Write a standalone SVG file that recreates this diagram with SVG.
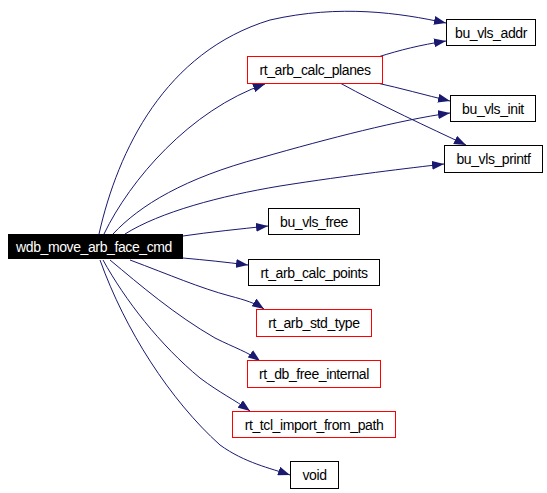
<svg xmlns="http://www.w3.org/2000/svg" width="547" height="493" viewBox="0 0 547 493">
<defs>
<marker id="ah" viewBox="0 0 12 9" refX="12" refY="4.5" markerWidth="12" markerHeight="9" markerUnits="userSpaceOnUse" orient="auto">
<path d="M0,0 L12,4.5 L0,9 Z" fill="#191970"/>
</marker>
<style>
.e{fill:none;stroke:#191970;stroke-width:1;marker-end:url(#ah)}
.n rect{fill:#fff;stroke:#000;stroke-width:1}
.r rect{stroke:#ff0000}
text{font-family:"Liberation Sans",Arial,sans-serif;font-size:14px;letter-spacing:-0.4px;text-anchor:middle;fill:#000}
</style>
</defs>
<rect width="547" height="493" fill="#fff"/>
<g id="edges">
<path class="e" d="M99,234 C118,150 165,52 270,20 C340,4 400,13 446,23"/>
<path class="e" d="M104,234 C130,180 190,110 265,84"/>
<path class="e" d="M113,234 C140,205 185,178 260,158 C330,138 400,120 450,113"/>
<path class="e" d="M125,234 C160,212 220,196 280,186 C350,175 410,168 444,164"/>
<path class="e" d="M183,236 C210,232 240,229 268,226"/>
<path class="e" d="M183,258 C205,260 225,262 248,265"/>
<path class="e" d="M130,260 C170,275 200,288 230,296 C245,300 255,303 264,309"/>
<path class="e" d="M110,260 C140,285 175,315 215,338 C235,348 248,352 260,361"/>
<path class="e" d="M103,260 C125,300 160,345 200,378 C220,393 235,400 250,411"/>
<path class="e" d="M100,260 C125,330 170,400 220,445 C245,463 270,468 290,475"/>
<path class="e" d="M378,57 C400,50 420,45 446,41"/>
<path class="e" d="M377,83 C400,88 425,95 450,101"/>
<path class="e" d="M340,83 C380,105 430,128 466,145"/>
</g>
<g id="wdb_move_arb_face_cmd"><rect x="8" y="234" width="175" height="25" fill="#000"/><text x="94" y="251.5" style="fill:#fff">wdb_move_arb_face_cmd</text></g>
<g id="rt_arb_calc_planes" class="n r"><rect x="247.5" y="56.5" width="135" height="27"/><text x="315" y="75">rt_arb_calc_planes</text></g>
<g id="bu_vls_addr" class="n"><rect x="446.5" y="19.5" width="89" height="26"/><text x="491" y="38">bu_vls_addr</text></g>
<g id="bu_vls_init" class="n"><rect x="450.5" y="95.5" width="85" height="26"/><text x="493" y="114">bu_vls_init</text></g>
<g id="bu_vls_printf" class="n"><rect x="444.5" y="145.5" width="98" height="27"/><text x="493.5" y="164">bu_vls_printf</text></g>
<g id="bu_vls_free" class="n"><rect x="268.5" y="208.5" width="91" height="26"/><text x="314" y="227">bu_vls_free</text></g>
<g id="rt_arb_calc_points" class="n"><rect x="248.5" y="259.5" width="131" height="26"/><text x="314" y="278">rt_arb_calc_points</text></g>
<g id="rt_arb_std_type" class="n r"><rect x="256.5" y="309.5" width="115" height="27"/><text x="314" y="328">rt_arb_std_type</text></g>
<g id="rt_db_free_internal" class="n r"><rect x="247.5" y="360.5" width="133" height="27"/><text x="314" y="379">rt_db_free_internal</text></g>
<g id="rt_tcl_import_from_path" class="n r"><rect x="232.5" y="411.5" width="163" height="26"/><text x="314" y="429.5">rt_tcl_import_from_path</text></g>
<g id="void" class="n"><rect x="290.5" y="461.5" width="48" height="27"/><text x="314.5" y="480">void</text></g>
</svg>
